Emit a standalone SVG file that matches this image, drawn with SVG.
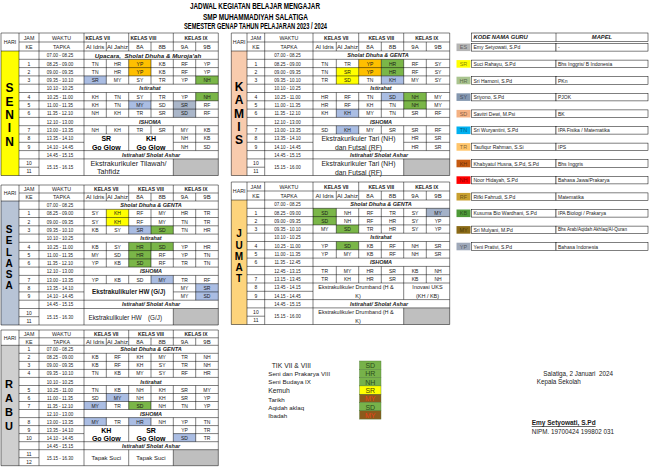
<svg xmlns="http://www.w3.org/2000/svg" width="649" height="468" viewBox="0 0 649 468">
<style>
text{font-family:'Liberation Sans',Arial,sans-serif;fill:#1a1a1a}
.c{font-size:5px;text-anchor:middle;dominant-baseline:central}
.tm{font-size:4.5px;text-anchor:middle;dominant-baseline:central}
.hd{font-size:5.3px;text-anchor:middle;dominant-baseline:central}
.hk{font-size:5px;font-weight:bold;text-anchor:middle;dominant-baseline:central}
.cl{font-size:6px;text-anchor:middle;dominant-baseline:central}
.m{font-size:5.5px;font-weight:bold;font-style:italic;text-anchor:middle;dominant-baseline:central}
.dl{font-weight:bold;text-anchor:middle;dominant-baseline:central;fill:#000}
.gg{font-size:7px;font-weight:bold;text-anchor:middle;dominant-baseline:central;fill:#000}
.ex{font-size:6.8px;dominant-baseline:central}
.grid{fill:none;stroke:#000;stroke-width:0.5}
.yl{fill:#ffff00}.or{fill:#ffc000}.gr{fill:#7ab648}.lb{fill:#aabde3}.gb{fill:#aab6c9}.gy{fill:#bfbfbf}
.lg{font-size:5px;dominant-baseline:central}
.code{font-size:5.5px;text-anchor:middle;dominant-baseline:central;fill:#000;fill-opacity:0.5}
.cell{fill:#fff;stroke:#000;stroke-width:0.5}
.mt{font-size:6.2px;dominant-baseline:central}
.bx{stroke:#4d7a33;stroke-width:0.4}
.bt{font-size:7px;text-anchor:middle;dominant-baseline:central;fill:#2d4d1c}
.sg{font-size:6.3px;dominant-baseline:central}
</style>
<rect width="649" height="468" fill="#fff"/>

<g id="title" style="font-weight:bold;font-size:8.4px">
<text x="190" y="9.3" textLength="130" lengthAdjust="spacingAndGlyphs" style="font-weight:bold;fill:#000">JADWAL KEGIATAN BELAJAR MENGAJAR</text>
<text x="203" y="20" textLength="105" lengthAdjust="spacingAndGlyphs" style="font-weight:bold;fill:#000">SMP MUHAMMADIYAH SALATIGA</text>
<text x="184" y="28.7" textLength="143" lengthAdjust="spacingAndGlyphs" style="font-weight:bold;fill:#000">SEMESTER GENAP TAHUN PELAJARAN 2023 / 2024</text>
</g>

<!-- SENIN -->
<g id="senin">
<rect x="1" y="51" width="18" height="124.5" fill="#ffff00"/>
<rect class="or" x="128.7" y="59.3" width="22.3" height="16.6"/>
<rect class="lb" x="84" y="75.9" width="22.3" height="8.3"/>
<rect class="gr" x="195.7" y="75.9" width="22.6" height="8.3"/>
<rect class="gr" x="195.7" y="92.5" width="22.6" height="8.3"/>
<rect class="lb" x="128.7" y="100.8" width="22.3" height="8.3"/>
<rect class="gb" x="173.3" y="100.8" width="22.4" height="16.6"/>
<rect class="gy" x="173.3" y="158.9" width="45" height="16.6"/>
<path class="grid" d="M1 33H218.3V175.5H1Z M19 33V175.5 M39 33V175.5 M84 33V175.5 M19 42H218.3 M1 51H218.3 M106.3 42V51 M128.7 33V51 M151 42V51 M173.3 33V51 M195.7 42V51 M19 59.3H218.3 M19 67.6H218.3 M19 75.9H218.3 M19 84.2H218.3 M19 92.5H218.3 M19 100.8H218.3 M19 109.1H218.3 M19 117.4H218.3 M19 125.7H218.3 M19 134H218.3 M19 142.3H84 M173.3 142.3H218.3 M19 150.6H218.3 M19 158.9H218.3 M19 167.2H39 M106.3 59.3V84.2 M128.7 59.3V84.2 M151 59.3V84.2 M173.3 59.3V84.2 M195.7 59.3V84.2 M106.3 92.5V117.4 M128.7 92.5V117.4 M151 92.5V117.4 M173.3 92.5V117.4 M195.7 92.5V117.4 M106.3 125.7V134 M151 125.7V134 M128.7 125.7V150.6 M173.3 125.7V150.6 M195.7 125.7V150.6 M173.3 158.9V175.5"/>
<text class="hd" x="10" y="42">HARI</text>
<text class="hd"><tspan x="29" y="37.5">JAM</tspan><tspan x="29" y="46.5">KE</tspan><tspan x="61.5" y="37.5">WAKTU</tspan><tspan x="61.5" y="46.5">TAPKA</tspan></text>
<text class="hk" x="85.5" y="37.5" style="text-anchor:start">KELAS VII</text>
<text class="hk" x="130.5" y="37.5" style="text-anchor:start">KELAS VIII</text>
<text class="hk" x="196" y="37.5">KELAS IX</text>
<text class="cl" y="46.5"><tspan x="95.2">Al Idris</tspan><tspan x="117.5">Al Jahiz</tspan><tspan x="139.9">8A</tspan><tspan x="162.2">8B</tspan><tspan x="184.5">9A</tspan><tspan x="207">9B</tspan></text>
<text class="dl" style="font-size:12px"><tspan x="9.5" y="88.3">S</tspan><tspan x="9.5" y="101.6">E</tspan><tspan x="9.5" y="114.9">N</tspan><tspan x="9.5" y="128.2">I</tspan><tspan x="9.5" y="141.5">N</tspan></text>
<text class="c"><tspan x="29" y="63.5">1</tspan><tspan x="29" y="71.8">2</tspan><tspan x="29" y="80.1">3</tspan><tspan x="29" y="96.7">4</tspan><tspan x="29" y="105">5</tspan><tspan x="29" y="113.3">6</tspan><tspan x="29" y="129.9">7</tspan><tspan x="29" y="138.2">8</tspan><tspan x="29" y="146.5">9</tspan><tspan x="29" y="163.1">10</tspan><tspan x="29" y="171.4">11</tspan></text>
<text class="tm"><tspan x="60" y="55.2">07.00 - 08.25</tspan><tspan x="60" y="63.5">08.25 - 09.00</tspan><tspan x="60" y="71.8">09.00 - 09.35</tspan><tspan x="60" y="80.1">09.35 - 10.10</tspan><tspan x="60" y="88.4">10.10 - 10.25</tspan><tspan x="60" y="96.7">10.25 - 11.00</tspan><tspan x="60" y="105">11.00 - 11.35</tspan><tspan x="60" y="113.3">11.35 - 12.10</tspan><tspan x="60" y="121.6">12.10 - 13.00</tspan><tspan x="60" y="129.9">13.00 - 13.35</tspan><tspan x="60" y="138.2">13.35 - 14.10</tspan><tspan x="60" y="146.5">14.10 - 14.45</tspan><tspan x="60" y="154.8">14.45 - 15.15</tspan><tspan x="60" y="167.2">15.15 - 16.15</tspan></text>
<text class="m" x="148" y="55.2" style="font-size:6.2px" xml:space="preserve">Upacara,  Sholat Dhuha &amp; Muroja'ah</text>
<text class="m" x="150" y="88.4">Istirahat</text>
<text class="m" x="150" y="121.6">ISHOMA</text>
<text class="m" x="151" y="154.8">Istirahat/ Sholat Ashar</text>
<text class="c" y="63.5"><tspan x="95.2">TN</tspan><tspan x="117.5">HR</tspan><tspan x="139.9">YP</tspan><tspan x="162.2">KB</tspan><tspan x="184.5">RF</tspan><tspan x="207">YP</tspan></text>
<text class="c" y="71.8"><tspan x="95.2">TN</tspan><tspan x="117.5">HR</tspan><tspan x="139.9">YP</tspan><tspan x="162.2">KB</tspan><tspan x="184.5">RF</tspan><tspan x="207">YP</tspan></text>
<text class="c" y="80.1"><tspan x="95.2">SR</tspan><tspan x="117.5">MY</tspan><tspan x="139.9">SY</tspan><tspan x="162.2">TR</tspan><tspan x="184.5">YP</tspan><tspan x="207">NH</tspan></text>
<text class="c" y="96.7"><tspan x="95.2">KH</tspan><tspan x="117.5">TN</tspan><tspan x="139.9">SY</tspan><tspan x="162.2">TR</tspan><tspan x="184.5">YP</tspan><tspan x="207">NH</tspan></text>
<text class="c" y="105"><tspan x="95.2">KH</tspan><tspan x="117.5">TN</tspan><tspan x="139.9">MY</tspan><tspan x="162.2">SD</tspan><tspan x="184.5">SR</tspan><tspan x="207">RF</tspan></text>
<text class="c" y="113.3"><tspan x="95.2">NH</tspan><tspan x="117.5">KH</tspan><tspan x="139.9">TR</tspan><tspan x="162.2">SR</tspan><tspan x="184.5">SD</tspan><tspan x="207">RF</tspan></text>
<text class="c" y="129.9"><tspan x="95.2">NH</tspan><tspan x="117.5">KH</tspan><tspan x="139.9">TR</tspan><tspan x="162.2">SR</tspan><tspan x="184.5">MY</tspan><tspan x="207">KB</tspan></text>
<text class="c" y="138.2"><tspan x="184.5">NH</tspan><tspan x="207">KB</tspan></text>
<text class="c" y="146.5"><tspan x="184.5">NH</tspan><tspan x="207">SD</tspan></text>
<text class="gg"><tspan x="106.3" y="138.2">SR</tspan><tspan x="106.3" y="146.5">Go Glow</tspan><tspan x="151" y="138.2">KH</tspan><tspan x="151" y="146.5">Go Glow</tspan></text>
<text class="ex" style="font-size:7.2px"><tspan x="90.5" y="163.1">Ekstrakurikuler Tilawah/</tspan><tspan x="97" y="171.4">Tahfidz</tspan></text>
</g>

<!-- SELASA -->
<g id="selasa">
<rect x="1" y="201" width="18" height="124" fill="#b8c4d6"/>
<rect class="yl" x="106.3" y="209.3" width="22.4" height="16.5"/>
<rect class="lb" x="128.7" y="225.8" width="22.3" height="8.3"/>
<rect class="gr" x="151" y="225.8" width="22.3" height="8.3"/>
<rect class="gr" x="128.7" y="242.3" width="22.3" height="24.8"/>
<rect class="gr" x="151" y="242.3" width="22.3" height="8.3"/>
<rect class="lb" x="151" y="275.4" width="22.3" height="8.3"/>
<rect class="lb" x="195.7" y="283.7" width="22.6" height="16.5"/>
<rect class="gy" x="173.3" y="308.5" width="45" height="16.5"/>
<path class="grid" d="M1 185H218.3V325H1Z M19 185V325 M39 185V325 M84 185V325 M19 193H218.3 M1 201H218.3 M106.3 193V201 M128.7 185V201 M151 193V201 M173.3 185V201 M195.7 193V201 M19 209.3H218.3 M19 217.5H218.3 M19 225.8H218.3 M19 234.1H218.3 M19 242.3H218.3 M19 250.6H218.3 M19 258.9H218.3 M19 267.1H218.3 M19 275.4H218.3 M19 283.7H218.3 M19 291.9H84 M173.3 291.9H218.3 M19 300.2H218.3 M19 308.5H218.3 M19 316.7H39 M106.3 209.3V234.1 M128.7 209.3V234.1 M151 209.3V234.1 M173.3 209.3V234.1 M195.7 209.3V234.1 M106.3 242.3V267.1 M128.7 242.3V267.1 M151 242.3V267.1 M173.3 242.3V267.1 M195.7 242.3V267.1 M106.3 275.4V283.7 M128.7 275.4V283.7 M151 275.4V283.7 M173.3 275.4V300.2 M195.7 275.4V300.2 M173.3 308.5V325"/>
<text class="hd" x="10" y="193">HARI</text>
<text class="hd"><tspan x="29" y="189">JAM</tspan><tspan x="29" y="197">KE</tspan><tspan x="61.5" y="189">WAKTU</tspan><tspan x="61.5" y="197">TAPKA</tspan></text>
<text class="hk" y="189"><tspan x="106.3">KELAS VII</tspan><tspan x="151">KELAS VIII</tspan><tspan x="196">KELAS IX</tspan></text>
<text class="cl" y="197"><tspan x="95.2">Al Idris</tspan><tspan x="117.5">Al Jahiz</tspan><tspan x="139.9">8A</tspan><tspan x="162.2">8B</tspan><tspan x="184.5">9A</tspan><tspan x="207">9B</tspan></text>
<text class="dl" style="font-size:10px"><tspan x="9" y="229.3">S</tspan><tspan x="9" y="240.4">E</tspan><tspan x="9" y="251.5">L</tspan><tspan x="9" y="262.6">A</tspan><tspan x="9" y="273.7">S</tspan><tspan x="9" y="284.8">A</tspan></text>
<text class="c"><tspan x="29" y="213.4">1</tspan><tspan x="29" y="221.7">2</tspan><tspan x="29" y="230">3</tspan><tspan x="29" y="246.5">4</tspan><tspan x="29" y="254.8">5</tspan><tspan x="29" y="263">6</tspan><tspan x="29" y="279.6">7</tspan><tspan x="29" y="287.8">8</tspan><tspan x="29" y="296.1">9</tspan><tspan x="29" y="312.6">10</tspan><tspan x="29" y="320.9">11</tspan></text>
<text class="tm"><tspan x="60" y="205.2">07.00 - 08.25</tspan><tspan x="60" y="213.4">08.25 - 09.00</tspan><tspan x="60" y="221.7">09.00 - 09.35</tspan><tspan x="60" y="230">09.35 - 10.10</tspan><tspan x="60" y="238.2">10.10 - 10.25</tspan><tspan x="60" y="246.5">10.25 - 11.00</tspan><tspan x="60" y="254.8">11.00 - 11.35</tspan><tspan x="60" y="263">11.35 - 12.10</tspan><tspan x="60" y="271.3">12.10 - 13.00</tspan><tspan x="60" y="279.6">13.00 - 13.35</tspan><tspan x="60" y="287.8">13.35 - 14.10</tspan><tspan x="60" y="296.1">14.10 - 14.45</tspan><tspan x="60" y="304.4">14.45 - 15.15</tspan><tspan x="60" y="316.7">15.15 - 16.30</tspan></text>
<text class="m" x="151" y="205.2">Sholat Dhuha &amp; GENTA</text>
<text class="m" x="151" y="238.2">Istirahat</text>
<text class="m" x="151" y="271.3">ISHOMA</text>
<text class="m" x="151" y="304.4">Istirahat/ Sholat Ashar</text>
<text class="c" y="213.4"><tspan x="95.2">SY</tspan><tspan x="117.5">KH</tspan><tspan x="139.9">RF</tspan><tspan x="162.2">MY</tspan><tspan x="184.5">HR</tspan><tspan x="207">TR</tspan></text>
<text class="c" y="221.7"><tspan x="95.2">SY</tspan><tspan x="117.5">KH</tspan><tspan x="139.9">RF</tspan><tspan x="162.2">MY</tspan><tspan x="184.5">TN</tspan><tspan x="207">TR</tspan></text>
<text class="c" y="230"><tspan x="95.2">KB</tspan><tspan x="117.5">SY</tspan><tspan x="139.9">SR</tspan><tspan x="162.2">SD</tspan><tspan x="184.5">TN</tspan><tspan x="207">HR</tspan></text>
<text class="c" y="246.5"><tspan x="95.2">KB</tspan><tspan x="117.5">SY</tspan><tspan x="139.9">HR</tspan><tspan x="162.2">SD</tspan><tspan x="184.5">YP</tspan><tspan x="207">HR</tspan></text>
<text class="c" y="254.8"><tspan x="95.2">MY</tspan><tspan x="117.5">SD</tspan><tspan x="139.9">HR</tspan><tspan x="162.2">RF</tspan><tspan x="184.5">YP</tspan><tspan x="207">TN</tspan></text>
<text class="c" y="263"><tspan x="95.2">YP</tspan><tspan x="117.5">KB</tspan><tspan x="139.9">SD</tspan><tspan x="162.2">RF</tspan><tspan x="184.5">TR</tspan><tspan x="207">TN</tspan></text>
<text class="c" y="279.6"><tspan x="95.2">YP</tspan><tspan x="117.5">KB</tspan><tspan x="139.9">SD</tspan><tspan x="162.2">MY</tspan><tspan x="184.5">TR</tspan><tspan x="207">RF</tspan></text>
<text class="c" y="287.8"><tspan x="184.5">MY</tspan><tspan x="207">SR</tspan></text>
<text class="c" y="296.1"><tspan x="184.5">MY</tspan><tspan x="207">SD</tspan></text>
<text class="ex" x="128.7" y="291.9" style="font-size:6.3px;font-weight:bold;text-anchor:middle">Ekstrakulikuler HW (G/J)</text>
<text class="ex" y="316.7" style="font-size:6.3px"><tspan x="88.5">Ekstrakulikuler HW</tspan><tspan x="148">(G/J)</tspan></text>
</g>

<!-- RABU -->
<g id="rabu">
<rect x="1" y="345.3" width="18" height="120.4" fill="#cfcfcf"/>
<rect class="lb" x="106.3" y="393.5" width="22.4" height="8"/>
<rect class="lb" x="84" y="401.5" width="22.3" height="8"/>
<rect class="gr" x="128.7" y="401.5" width="22.3" height="8"/>
<rect class="lb" x="84" y="417.6" width="22.3" height="8"/>
<rect class="lb" x="128.7" y="417.6" width="22.3" height="8"/>
<rect class="lb" x="173.3" y="433.6" width="22.4" height="8.1"/>
<rect class="gy" x="173.3" y="449.7" width="45" height="16"/>
<path class="grid" d="M1 330H218.3V465.7H1Z M19 330V465.7 M39 330V465.7 M84 330V465.7 M19 337.8H218.3 M1 345.3H218.3 M106.3 337.8V345.3 M128.7 330V345.3 M151 337.8V345.3 M173.3 330V345.3 M195.7 337.8V345.3 M19 353.3H218.3 M19 361.4H218.3 M19 369.4H218.3 M19 377.4H218.3 M19 385.5H218.3 M19 393.5H218.3 M19 401.5H218.3 M19 409.5H218.3 M19 417.6H218.3 M19 425.6H218.3 M19 433.6H84 M173.3 433.6H218.3 M19 441.7H218.3 M19 449.7H218.3 M19 457.7H39 M106.3 353.3V377.4 M128.7 353.3V377.4 M151 353.3V377.4 M173.3 353.3V377.4 M195.7 353.3V377.4 M106.3 385.5V409.5 M128.7 385.5V409.5 M151 385.5V409.5 M173.3 385.5V409.5 M195.7 385.5V409.5 M106.3 417.6V425.6 M151 417.6V425.6 M128.7 417.6V441.7 M173.3 417.6V441.7 M195.7 417.6V441.7 M128.7 449.7V465.7 M173.3 449.7V465.7"/>
<text class="hd" x="10" y="337.7">HARI</text>
<text class="hd"><tspan x="29" y="333.9">JAM</tspan><tspan x="29" y="341.6">KE</tspan><tspan x="61.5" y="333.9">WAKTU</tspan><tspan x="61.5" y="341.6">TAPKA</tspan></text>
<text class="hk" y="333.9"><tspan x="106.3">KELAS VII</tspan><tspan x="151">KELAS VIII</tspan><tspan x="196">KELAS IX</tspan></text>
<text class="cl" y="341.6"><tspan x="95.2">Al Idris</tspan><tspan x="117.5">Al Jahiz</tspan><tspan x="139.9">8A</tspan><tspan x="162.2">8B</tspan><tspan x="184.5">9A</tspan><tspan x="207">9B</tspan></text>
<text class="dl" style="font-size:11px"><tspan x="9" y="384">R</tspan><tspan x="9" y="398">A</tspan><tspan x="9" y="412">B</tspan><tspan x="9" y="426">U</tspan></text>
<text class="c"><tspan x="29" y="349.3">1</tspan><tspan x="29" y="357.4">2</tspan><tspan x="29" y="365.4">3</tspan><tspan x="29" y="373.4">4</tspan><tspan x="29" y="389.5">5</tspan><tspan x="29" y="397.5">6</tspan><tspan x="29" y="405.5">7</tspan><tspan x="29" y="421.6">8</tspan><tspan x="29" y="429.6">9</tspan><tspan x="29" y="437.7">10</tspan><tspan x="29" y="453.7">11</tspan><tspan x="29" y="461.7">12</tspan></text>
<text class="tm"><tspan x="60" y="349.3">07.00 - 08.25</tspan><tspan x="60" y="357.4">08.25 - 09.00</tspan><tspan x="60" y="365.4">09.00 - 09.35</tspan><tspan x="60" y="373.4">09.35 - 10.10</tspan><tspan x="60" y="381.5">10.10 - 10.25</tspan><tspan x="60" y="389.5">10.25 - 11.00</tspan><tspan x="60" y="397.5">11.00 - 11.35</tspan><tspan x="60" y="405.5">11.35 - 12.10</tspan><tspan x="60" y="413.6">12.10 - 13.00</tspan><tspan x="60" y="421.6">13.00 - 13.35</tspan><tspan x="60" y="429.6">13.35 - 14.10</tspan><tspan x="60" y="437.7">14.10 - 14.45</tspan><tspan x="60" y="445.7">14.45 - 15.15</tspan><tspan x="60" y="457.7">15.15 - 16.30</tspan></text>
<text class="m" x="151" y="349.3">Sholat Dhuha &amp; GENTA</text>
<text class="m" x="151" y="381.5">Istirahat</text>
<text class="m" x="151" y="413.6">ISHOMA</text>
<text class="m" x="151" y="445.7">Istirahat/ Sholat Ashar</text>
<text class="c" y="357.4"><tspan x="95.2">KB</tspan><tspan x="117.5">RF</tspan><tspan x="139.9">KH</tspan><tspan x="162.2">MY</tspan><tspan x="184.5">TR</tspan><tspan x="207">NH</tspan></text>
<text class="c" y="365.4"><tspan x="95.2">KB</tspan><tspan x="117.5">RF</tspan><tspan x="139.9">KH</tspan><tspan x="162.2">SY</tspan><tspan x="184.5">TR</tspan><tspan x="207">NH</tspan></text>
<text class="c" y="373.4"><tspan x="95.2">TN</tspan><tspan x="117.5">KB</tspan><tspan x="139.9">MY</tspan><tspan x="162.2">SY</tspan><tspan x="184.5">RF</tspan><tspan x="207">HR</tspan></text>
<text class="c" y="389.5"><tspan x="95.2">TN</tspan><tspan x="117.5">KB</tspan><tspan x="139.9">NH</tspan><tspan x="162.2">KH</tspan><tspan x="184.5">SR</tspan><tspan x="207">MY</tspan></text>
<text class="c" y="397.5"><tspan x="95.2">SD</tspan><tspan x="117.5">MY</tspan><tspan x="139.9">NH</tspan><tspan x="162.2">KH</tspan><tspan x="184.5">SR</tspan><tspan x="207">YP</tspan></text>
<text class="c" y="405.5"><tspan x="95.2">MY</tspan><tspan x="117.5">TR</tspan><tspan x="139.9">SD</tspan><tspan x="162.2">NH</tspan><tspan x="184.5">TN</tspan><tspan x="207">YP</tspan></text>
<text class="c" y="421.6"><tspan x="95.2">MY</tspan><tspan x="117.5">TR</tspan><tspan x="139.9">HR</tspan><tspan x="162.2">NH</tspan><tspan x="184.5">YP</tspan><tspan x="207">TN</tspan></text>
<text class="c" y="429.6"><tspan x="184.5">YP</tspan><tspan x="207">TR</tspan></text>
<text class="c" y="437.7"><tspan x="184.5">SD</tspan><tspan x="207">TR</tspan></text>
<text class="gg"><tspan x="106.3" y="429.6">KH</tspan><tspan x="106.3" y="437.7">Go Glow</tspan><tspan x="151" y="429.6">SR</tspan><tspan x="151" y="437.7">Go Glow</tspan></text>
<text class="ex" y="457.7" style="font-size:6px;text-anchor:middle"><tspan x="106.3">Tapak Suci</tspan><tspan x="151">Tapak Suci</tspan></text>
</g>

<!-- KAMIS -->
<g id="kamis">
<rect x="231.3" y="51" width="15.7" height="124.5" fill="#f8cbad"/>
<rect class="or" x="358.7" y="59.3" width="22.6" height="16.6"/>
<rect class="gr" x="381.3" y="59.3" width="22.4" height="16.6"/>
<rect class="yl" x="336.3" y="67.6" width="22.4" height="16.6"/>
<rect class="lb" x="381.3" y="75.9" width="22.4" height="8.3"/>
<rect class="lb" x="381.3" y="92.5" width="22.4" height="8.3"/>
<rect class="gr" x="403.7" y="92.5" width="22.6" height="16.6"/>
<rect class="lb" x="336.3" y="109.1" width="22.4" height="8.3"/>
<rect class="lb" x="336.3" y="125.7" width="22.4" height="8.3"/>
<rect class="gy" x="403.7" y="158.9" width="46" height="16.6"/>
<path class="grid" d="M231.3 33H449.7V175.5H231.3Z M247 33V175.5 M264.7 33V175.5 M313 33V175.5 M247 42H449.7 M231.3 51H449.7 M336.3 42V51 M358.7 33V51 M381.3 42V51 M403.7 33V51 M426.3 42V51 M247 59.3H449.7 M247 67.6H449.7 M247 75.9H449.7 M247 84.2H449.7 M247 92.5H449.7 M247 100.8H449.7 M247 109.1H449.7 M247 117.4H449.7 M247 125.7H449.7 M247 134H449.7 M247 142.3H313 M403.7 142.3H449.7 M247 150.6H449.7 M247 158.9H449.7 M247 167.2H264.7 M336.3 59.3V84.2 M358.7 59.3V84.2 M381.3 59.3V84.2 M403.7 59.3V84.2 M426.3 59.3V84.2 M336.3 92.5V117.4 M358.7 92.5V117.4 M381.3 92.5V117.4 M403.7 92.5V117.4 M426.3 92.5V117.4 M336.3 125.7V134 M358.7 125.7V134 M381.3 125.7V134 M403.7 125.7V150.6 M426.3 125.7V150.6 M403.7 158.9V175.5"/>
<text class="hd" x="239.2" y="42">HARI</text>
<text class="hd"><tspan x="255.9" y="37.5">JAM</tspan><tspan x="255.9" y="46.5">KE</tspan><tspan x="288.9" y="37.5">WAKTU</tspan><tspan x="288.9" y="46.5">TAPKA</tspan></text>
<text class="hk" y="37.5"><tspan x="336.3">KELAS VII</tspan><tspan x="381.3">KELAS VIII</tspan><tspan x="426.7">KELAS IX</tspan></text>
<text class="cl" y="46.5"><tspan x="324.7">Al Idris</tspan><tspan x="347.5">Al Jahiz</tspan><tspan x="370">8A</tspan><tspan x="392.5">8B</tspan><tspan x="415">9A</tspan><tspan x="438">9B</tspan></text>
<text class="dl" style="font-size:12px"><tspan x="239" y="87">K</tspan><tspan x="239" y="100.3">A</tspan><tspan x="239" y="113.5">M</tspan><tspan x="239" y="126.8">I</tspan><tspan x="239" y="140">S</tspan></text>
<text class="c"><tspan x="255.9" y="63.5">1</tspan><tspan x="255.9" y="71.8">2</tspan><tspan x="255.9" y="80.1">3</tspan><tspan x="255.9" y="96.7">4</tspan><tspan x="255.9" y="105">5</tspan><tspan x="255.9" y="113.3">6</tspan><tspan x="255.9" y="129.9">7</tspan><tspan x="255.9" y="138.2">8</tspan><tspan x="255.9" y="146.5">9</tspan><tspan x="255.9" y="163.1">10</tspan><tspan x="255.9" y="171.4">11</tspan></text>
<text class="tm"><tspan x="287.5" y="55.2">07.00 - 08.25</tspan><tspan x="287.5" y="63.5">08.25 - 09.00</tspan><tspan x="287.5" y="71.8">09.00 - 09.35</tspan><tspan x="287.5" y="80.1">09.35 - 10.10</tspan><tspan x="287.5" y="88.4">10.10 - 10.25</tspan><tspan x="287.5" y="96.7">10.25 - 11.00</tspan><tspan x="287.5" y="105">11.00 - 11.35</tspan><tspan x="287.5" y="113.3">11.35 - 12.10</tspan><tspan x="287.5" y="121.6">12.10 - 13.00</tspan><tspan x="287.5" y="129.9">13.00 - 13.35</tspan><tspan x="287.5" y="138.2">13.35 - 14.10</tspan><tspan x="287.5" y="146.5">14.10 - 14.45</tspan><tspan x="287.5" y="154.8">14.45 - 15.15</tspan><tspan x="287.5" y="167.2">15.15 - 16.00</tspan></text>
<text class="m" x="378" y="55.2">Sholat Dhuha &amp; GENTA</text>
<text class="m" x="381" y="88.4">Istirahat</text>
<text class="m" x="381" y="121.6">ISHOMA</text>
<text class="m" x="379" y="154.8">Istirahat/ Sholat Ashar</text>
<text class="c" y="63.5"><tspan x="324.7">TN</tspan><tspan x="347.5">TR</tspan><tspan x="370">YP</tspan><tspan x="392.5">HR</tspan><tspan x="415">RF</tspan><tspan x="438">SY</tspan></text>
<text class="c" y="71.8"><tspan x="324.7">TN</tspan><tspan x="347.5">SR</tspan><tspan x="370">YP</tspan><tspan x="392.5">HR</tspan><tspan x="415">RF</tspan><tspan x="438">SY</tspan></text>
<text class="c" y="80.1"><tspan x="324.7">TR</tspan><tspan x="347.5">SD</tspan><tspan x="370">TN</tspan><tspan x="392.5">KH</tspan><tspan x="415">MY</tspan><tspan x="438">SY</tspan></text>
<text class="c" y="96.7"><tspan x="324.7">HR</tspan><tspan x="347.5">RF</tspan><tspan x="370">TN</tspan><tspan x="392.5">SD</tspan><tspan x="415">NH</tspan><tspan x="438">MY</tspan></text>
<text class="c" y="105"><tspan x="324.7">HR</tspan><tspan x="347.5">RF</tspan><tspan x="370">KH</tspan><tspan x="392.5">TN</tspan><tspan x="415">NH</tspan><tspan x="438">MY</tspan></text>
<text class="c" y="113.3"><tspan x="324.7">KH</tspan><tspan x="347.5">KH</tspan><tspan x="370">MY</tspan><tspan x="392.5">TN</tspan><tspan x="415">SR</tspan><tspan x="438">RF</tspan></text>
<text class="c" y="129.9"><tspan x="324.7">SD</tspan><tspan x="347.5">KH</tspan><tspan x="370">MY</tspan><tspan x="392.5">SR</tspan><tspan x="415">SR</tspan><tspan x="438">RF</tspan></text>
<text class="c" y="138.2"><tspan x="415">HR</tspan><tspan x="438">SR</tspan></text>
<text class="c" y="146.5"><tspan x="415">HR</tspan><tspan x="438">SR</tspan></text>
<text class="ex" style="font-size:6.8px;text-anchor:middle"><tspan x="358.5" y="138.2">Ekstrakurikuler Tari (NH)</tspan><tspan x="358.5" y="147.3">dan Futsal (RF)</tspan><tspan x="358.5" y="162.7">Ekstrakurikuler Tari (NH)</tspan><tspan x="358.5" y="172">dan Futsal (RF)</tspan></text>
</g>

<!-- JUMAT -->
<g id="jumat">
<rect x="231.3" y="200" width="15.7" height="124.5" fill="#fdd47c"/>
<rect class="gr" x="313" y="208.3" width="23.3" height="16.6"/>
<rect x="426.3" y="208.3" width="23.4" height="8.3" fill="#a3b1c8"/>
<rect class="gr" x="336.3" y="224.9" width="22.4" height="8.3"/>
<rect class="gr" x="336.3" y="241.5" width="22.4" height="8.3"/>
<rect class="gy" x="403.7" y="307.9" width="46" height="16.6"/>
<path class="grid" d="M231.3 182H449.7V324.5H231.3Z M247 182V324.5 M264.7 182V324.5 M313 182V324.5 M247 191H449.7 M231.3 200H449.7 M336.3 191V200 M358.7 182V200 M381.3 191V200 M403.7 182V200 M426.3 191V200 M247 208.3H449.7 M247 216.6H449.7 M247 224.9H449.7 M247 233.2H449.7 M247 241.5H449.7 M247 249.8H449.7 M247 258.1H449.7 M247 266.4H449.7 M247 274.7H449.7 M247 283H449.7 M247 291.3H313 M247 299.6H449.7 M247 307.9H449.7 M247 316.2H264.7 M336.3 208.3V233.2 M358.7 208.3V233.2 M381.3 208.3V233.2 M403.7 208.3V233.2 M426.3 208.3V233.2 M336.3 241.5V258.1 M358.7 241.5V258.1 M381.3 241.5V258.1 M403.7 241.5V258.1 M426.3 241.5V258.1 M336.3 266.4V283 M358.7 266.4V283 M381.3 266.4V283 M403.7 266.4V283 M426.3 266.4V283 M403.7 283V299.6 M403.7 307.9V324.5"/>
<text class="hd" x="239.2" y="191">HARI</text>
<text class="hd"><tspan x="255.9" y="186.5">JAM</tspan><tspan x="255.9" y="195.5">KE</tspan><tspan x="288.9" y="186.5">WAKTU</tspan><tspan x="288.9" y="195.5">TAPKA</tspan></text>
<text class="hk" y="186.5"><tspan x="336.3">KELAS VII</tspan><tspan x="381.3">KELAS VIII</tspan><tspan x="426.7">KELAS IX</tspan></text>
<text class="cl" y="195.5"><tspan x="324.7">Al Idris</tspan><tspan x="347.5">Al Jahiz</tspan><tspan x="370">8A</tspan><tspan x="392.5">8B</tspan><tspan x="415">9A</tspan><tspan x="438">9B</tspan></text>
<text class="dl" style="font-size:10px"><tspan x="239" y="233.3">J</tspan><tspan x="239" y="244.5">U</tspan><tspan x="239" y="255.8">M</tspan><tspan x="239" y="267">A</tspan><tspan x="239" y="278.3">T</tspan></text>
<text class="c"><tspan x="255.9" y="212.5">1</tspan><tspan x="255.9" y="220.8">2</tspan><tspan x="255.9" y="229.1">3</tspan><tspan x="255.9" y="245.7">4</tspan><tspan x="255.9" y="254">5</tspan><tspan x="255.9" y="262.3">6</tspan><tspan x="255.9" y="278.9">7</tspan><tspan x="255.9" y="287.2">8</tspan><tspan x="255.9" y="295.5">9</tspan><tspan x="255.9" y="312.1">10</tspan><tspan x="255.9" y="320.4">11</tspan></text>
<text class="tm"><tspan x="287.5" y="204.2">07.00 - 08.25</tspan><tspan x="287.5" y="212.5">08.25 - 09.00</tspan><tspan x="287.5" y="220.8">09.00 - 09.35</tspan><tspan x="287.5" y="229.1">09.35 - 10.10</tspan><tspan x="287.5" y="237.4">10.10 - 10.25</tspan><tspan x="287.5" y="245.7">10.25 - 11.00</tspan><tspan x="287.5" y="254">11.00 - 11.35</tspan><tspan x="287.5" y="262.3">11.35 - 12.45</tspan><tspan x="287.5" y="270.6">12.45 - 13.15</tspan><tspan x="287.5" y="278.9">13.15 - 13.45</tspan><tspan x="287.5" y="287.2">13.45 - 14.15</tspan><tspan x="287.5" y="295.5">14.15 - 14.45</tspan><tspan x="287.5" y="303.8">14.45 - 15.15</tspan><tspan x="287.5" y="316.2">15.15 - 16.00</tspan></text>
<text class="m" x="381" y="204.2">Sholat Dhuha &amp; GENTA</text>
<text class="m" x="381" y="237.4">Istirahat</text>
<text class="m" x="381" y="262.3">ISHOMA</text>
<text class="m" x="379" y="303.8">Istirahat/ Sholat Ashar</text>
<text class="c" y="212.5"><tspan x="324.7">SD</tspan><tspan x="347.5">NH</tspan><tspan x="370">RF</tspan><tspan x="392.5">TR</tspan><tspan x="415">SY</tspan><tspan x="438">MY</tspan></text>
<text class="c" y="220.8"><tspan x="324.7">SD</tspan><tspan x="347.5">NH</tspan><tspan x="370">RF</tspan><tspan x="392.5">HR</tspan><tspan x="415">SY</tspan><tspan x="438">YP</tspan></text>
<text class="c" y="229.1"><tspan x="324.7">MY</tspan><tspan x="347.5">SD</tspan><tspan x="370">TR</tspan><tspan x="392.5">HR</tspan><tspan x="415">SY</tspan><tspan x="438">YP</tspan></text>
<text class="c" y="245.7"><tspan x="324.7">YP</tspan><tspan x="347.5">SD</tspan><tspan x="370">KB</tspan><tspan x="392.5">RF</tspan><tspan x="415">NH</tspan><tspan x="438">SR</tspan></text>
<text class="c" y="254"><tspan x="324.7">YP</tspan><tspan x="347.5">MY</tspan><tspan x="370">KB</tspan><tspan x="392.5">RF</tspan><tspan x="415">NH</tspan><tspan x="438">SR</tspan></text>
<text class="c" y="270.6"><tspan x="324.7">TR</tspan><tspan x="347.5">MY</tspan><tspan x="370">HR</tspan><tspan x="392.5">SR</tspan><tspan x="415">KB</tspan><tspan x="438">NH</tspan></text>
<text class="c" y="278.9"><tspan x="324.7">TR</tspan><tspan x="347.5">KH</tspan><tspan x="370">HR</tspan><tspan x="392.5">SR</tspan><tspan x="415">KB</tspan><tspan x="438">NH</tspan></text>
<text class="ex" style="font-size:5.5px;text-anchor:middle"><tspan x="356" y="287">Ekstrakulikuler Drumband (H &amp;</tspan><tspan x="358" y="295.7">K)</tspan><tspan x="427.5" y="287">Inovasi UKS</tspan><tspan x="427.5" y="295.7">(KH / KB)</tspan><tspan x="356" y="312.3">Ekstrakulikuler Drumband (H &amp;</tspan><tspan x="358" y="321">K)</tspan></text>
</g>

<!-- Teacher code legend -->
<g id="legend-guru">
<rect class="cell" x="471.5" y="33" width="176.5" height="8.5"/>
<path class="grid" d="M556 33V41.5"/>
<text x="473.5" y="37.3" style="font-size:5.8px;font-weight:bold;font-style:italic;dominant-baseline:central">KODE NAMA GURU</text>
<text x="602" y="37.3" style="font-size:5.8px;font-weight:bold;font-style:italic;dominant-baseline:central;text-anchor:middle">MAPEL</text>
<g id="g-es"><rect x="456.5" y="43.5" width="14" height="7.6" fill="#b5b5b5"/><text class="code" x="463.5" y="47.3">ES</text><rect class="cell" x="471.5" y="43.5" width="84.5" height="7.6"/><rect class="cell" x="556" y="43.5" width="92" height="7.6"/><text class="lg" x="473.5" y="47.3">Emy Setyowati, S.Pd</text><text class="lg" x="558" y="47.3">-</text></g>
<g id="g-sr"><rect x="456.5" y="60.1" width="14" height="7.6" fill="#ffff00"/><text class="code" x="463.5" y="63.9">SR</text><rect class="cell" x="471.5" y="60.1" width="84.5" height="7.6"/><rect class="cell" x="556" y="60.1" width="92" height="7.6"/><text class="lg" x="473.5" y="63.9">Suci Rahayu, S.Pd</text><text class="lg" x="558" y="63.9">Bhs Inggris/ B Indonesia</text></g>
<g id="g-hr"><rect x="456.5" y="76.7" width="14" height="7.6" fill="#a9c48f"/><text class="code" x="463.5" y="80.5">HR</text><rect class="cell" x="471.5" y="76.7" width="84.5" height="7.6"/><rect class="cell" x="556" y="76.7" width="92" height="7.6"/><text class="lg" x="473.5" y="80.5">Sri Harnoni, S.Pd</text><text class="lg" x="558" y="80.5">PKn</text></g>
<g id="g-sy"><rect x="456.5" y="93.3" width="14" height="7.6" fill="#8497b0"/><text class="code" x="463.5" y="97.1">SY</text><rect class="cell" x="471.5" y="93.3" width="84.5" height="7.6"/><rect class="cell" x="556" y="93.3" width="92" height="7.6"/><text class="lg" x="473.5" y="97.1">Sriyono, S.Pd</text><text class="lg" x="558" y="97.1">PJOK</text></g>
<g id="g-sd"><rect x="456.5" y="109.9" width="14" height="7.6" fill="#f4b183"/><text class="code" x="463.5" y="113.7">SD</text><rect class="cell" x="471.5" y="109.9" width="84.5" height="7.6"/><rect class="cell" x="556" y="109.9" width="92" height="7.6"/><text class="lg" x="473.5" y="113.7">Savitri Dewi, M.Psi</text><text class="lg" x="558" y="113.7">BK</text></g>
<g id="g-tn"><rect x="456.5" y="126.5" width="14" height="7.6" fill="#00b0f0"/><text class="code" x="463.5" y="130.3">TN</text><rect class="cell" x="471.5" y="126.5" width="84.5" height="7.6"/><rect class="cell" x="556" y="126.5" width="92" height="7.6"/><text class="lg" x="473.5" y="130.3">Sri Wuryantini, S.Pd</text><text class="lg" x="558" y="130.3">IPA Fisika / Matematika</text></g>
<g id="g-tr"><rect x="456.5" y="143.1" width="14" height="7.6" fill="#ffc56b"/><text class="code" x="463.5" y="146.9">TR</text><rect class="cell" x="471.5" y="143.1" width="84.5" height="7.6"/><rect class="cell" x="556" y="143.1" width="92" height="7.6"/><text class="lg" x="473.5" y="146.9">Taufiqur Rahman, S.Si</text><text class="lg" x="558" y="146.9">IPS</text></g>
<g id="g-kh"><rect x="456.5" y="159.7" width="14" height="7.6" fill="#c55a11"/><text class="code" x="463.5" y="163.5">KH</text><rect class="cell" x="471.5" y="159.7" width="84.5" height="7.6"/><rect class="cell" x="556" y="159.7" width="92" height="7.6"/><text class="lg" x="473.5" y="163.5">Khabyatul Husna, S.Pd, S.Pd</text><text class="lg" x="558" y="163.5">Bhs Inggris</text></g>
<g id="g-nh"><rect x="456.5" y="176.3" width="14" height="7.6" fill="#ff0000"/><text class="code" x="463.5" y="180.1">NH</text><rect class="cell" x="471.5" y="176.3" width="84.5" height="7.6"/><rect class="cell" x="556" y="176.3" width="92" height="7.6"/><text class="lg" x="473.5" y="180.1">Noor Hidayah, S.Pd</text><text class="lg" x="558" y="180.1">Bahasa Jawa/Prakarya</text></g>
<g id="g-rf"><rect x="456.5" y="192.9" width="14" height="7.6" fill="#c9a030"/><text class="code" x="463.5" y="196.7">RF</text><rect class="cell" x="471.5" y="192.9" width="84.5" height="7.6"/><rect class="cell" x="556" y="192.9" width="92" height="7.6"/><text class="lg" x="473.5" y="196.7">Rifki Fahrudi, S.Pd</text><text class="lg" x="558" y="196.7">Matematika</text></g>
<g id="g-kb"><rect x="456.5" y="209.5" width="14" height="7.6" fill="#4e9a38"/><text class="code" x="463.5" y="213.3">KB</text><rect class="cell" x="471.5" y="209.5" width="84.5" height="7.6"/><rect class="cell" x="556" y="209.5" width="92" height="7.6"/><text class="lg" x="473.5" y="213.3">Kusuma Bio Wardhani, S.Pd</text><text class="lg" x="558" y="213.3">IPA Biologi / Prakarya</text></g>
<g id="g-my"><rect x="456.5" y="226.1" width="14" height="7.6" fill="#8a6a16"/><text class="code" x="463.5" y="229.9">MY</text><rect class="cell" x="471.5" y="226.1" width="84.5" height="7.6"/><rect class="cell" x="556" y="226.1" width="92" height="7.6"/><text class="lg" x="473.5" y="229.9">Sri Mulyani, M.Pd</text><text class="lg" x="558" y="229.9" style="font-size:4.6px">Bhs Arab/Aqidah Akhlaq/Al-Quran</text></g>
<g id="g-yp"><rect x="456.5" y="242.7" width="14" height="7.6" fill="#9fa9ba"/><text class="code" x="463.5" y="246.5">YP</text><rect class="cell" x="471.5" y="242.7" width="84.5" height="7.6"/><rect class="cell" x="556" y="242.7" width="92" height="7.6"/><text class="lg" x="473.5" y="246.5">Yeni Prativi, S.Pd</text><text class="lg" x="558" y="246.5">Bahasa Indonesia</text></g>
</g>

<!-- Subject legend -->
<g id="legend-mapel">
<text class="mt" x="271.7" y="365" style="font-size:6.8px">TIK VII &amp; VIII</text>
<text class="mt" x="268.3" y="373.3">Seni dan Prakarya VIII</text>
<text class="mt" x="268.3" y="381.7">Seni Budaya IX</text>
<text class="mt" x="268.3" y="390.5" style="font-size:6.8px">Kemuh</text>
<text class="mt" x="268.3" y="399">Tarikh</text>
<text class="mt" x="268.3" y="407.7">Aqidah aklaq</text>
<text class="mt" x="268.3" y="415.5">Ibadah</text>
<rect class="bx" x="359.5" y="361" width="21.5" height="8.3" fill="#77b24a"/>
<rect class="bx" x="359.5" y="369.3" width="21.5" height="8.3" fill="#77b24a"/>
<rect class="bx" x="359.5" y="377.6" width="21.5" height="8.3" fill="#77b24a"/>
<rect class="bx" x="359.5" y="385.9" width="21.5" height="8.3" fill="#ffff00"/>
<rect class="bx" x="359.5" y="394.2" width="21.5" height="8.3" fill="#8b5a1c"/>
<rect class="bx" x="359.5" y="402.5" width="21.5" height="8.3" fill="#77b24a"/>
<rect class="bx" x="359.5" y="410.8" width="21.5" height="8.3" fill="#8b5a1c"/>
<text class="bt"><tspan x="370.25" y="365.15">SD</tspan><tspan x="370.25" y="373.45">HR</tspan><tspan x="370.25" y="381.75">NH</tspan><tspan x="370.25" y="406.65">SD</tspan></text>
<text class="bt" x="370.25" y="390.05" style="fill:#4a4a00">SR</text>
<text class="bt" style="fill:#e8401a"><tspan x="370.25" y="398.35">MY</tspan><tspan x="370.25" y="414.95">MY</tspan></text>
</g>

<!-- Signature -->
<g id="signature">
<text class="sg" x="543.3" y="373.3" xml:space="preserve">Salatiga, 2 Januari  2024</text>
<text class="sg" x="536.7" y="381.7">Kepala Sekolah</text>
<text class="sg" x="531.7" y="422.7" style="font-weight:bold;text-decoration:underline;font-size:6.5px">Emy Setyowati, S.Pd</text>
<text class="sg" x="531.7" y="431">NIPM. 19700424 199802 031</text>
</g>
</svg>
